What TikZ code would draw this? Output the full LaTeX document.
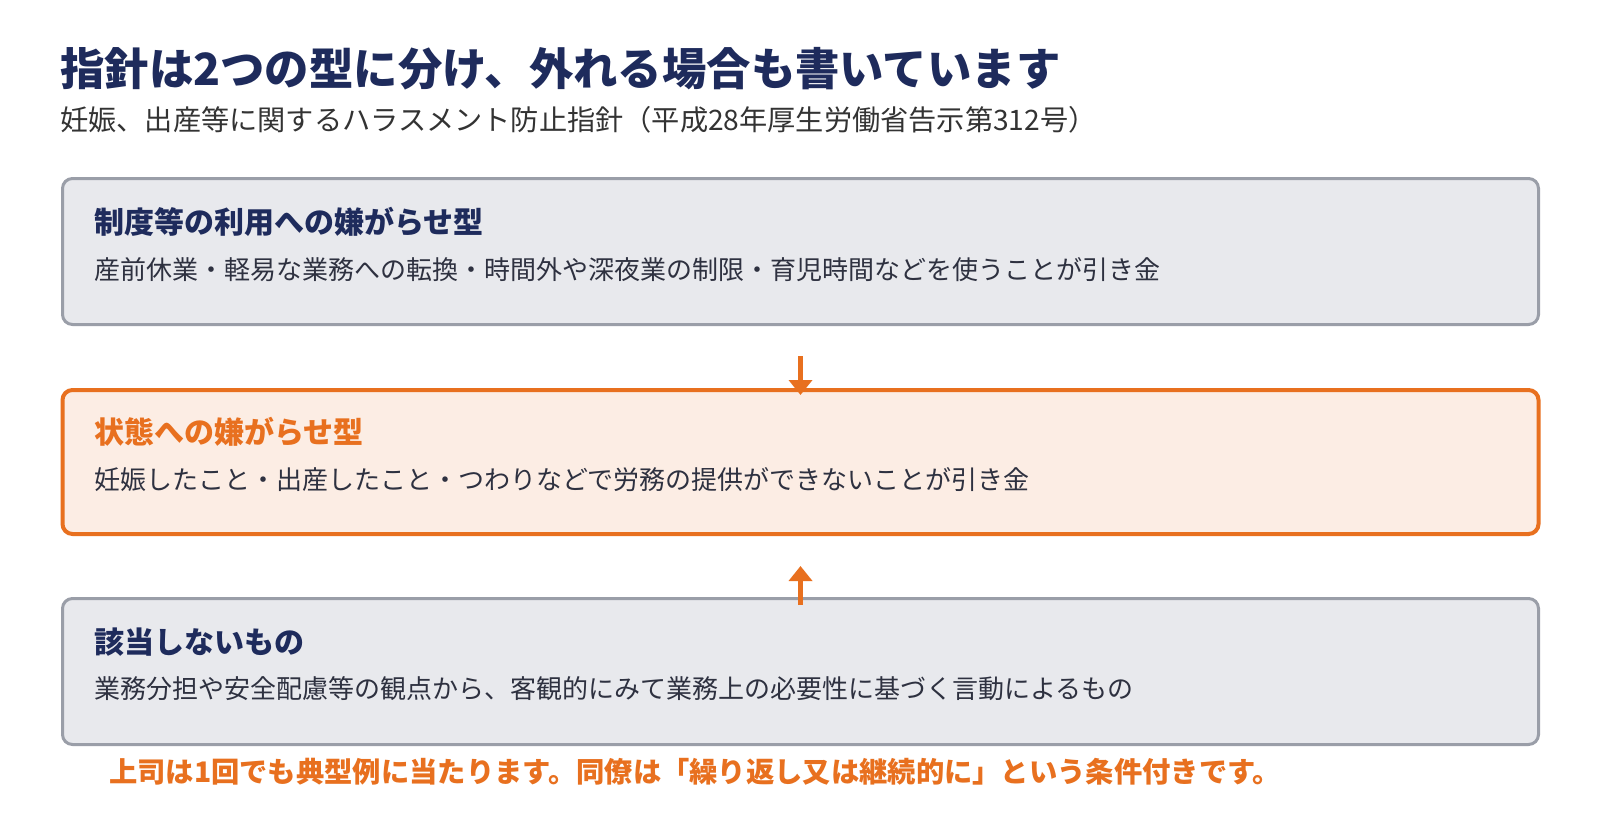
\documentclass[tikz,border=0pt]{standalone}
\usepackage{fontspec}
\setmainfont{Noto Sans CJK JP}
\usetikzlibrary{arrows.meta}
\definecolor{navy}{HTML}{1E2B5C}
\definecolor{orng}{HTML}{E8701F}
\definecolor{grayfill}{HTML}{E8E9ED}
\definecolor{graydraw}{HTML}{9A9EA8}
\definecolor{orfill}{HTML}{FCEDE4}
\definecolor{bodytxt}{HTML}{2E3140}
\definecolor{subtxt}{HTML}{333333}
\begin{document}
\begin{tikzpicture}[x=1pt,y=-1pt,
  box/.style={rounded corners=10pt, minimum width=1476pt, inner sep=0pt},
  graybox/.style={box, draw=graydraw, fill=grayfill, line width=3pt, minimum height=146pt},
  orbox/.style={box, draw=orng, fill=orfill, line width=4pt, minimum height=144pt},
  boxtitle/.style={anchor=west, inner sep=0pt, font=\fontsize{30}{34}\selectfont\bfseries},
  boxbody/.style={anchor=west, inner sep=0pt, text=bodytxt, font=\fontsize{26}{30}\selectfont},
  flow/.style={draw=orng, line width=5pt, -{Triangle[width=23pt,length=15pt]}}
]
\useasboundingbox (0,0) rectangle (1600,840);
\fill[white] (0,0) rectangle (1600,840);

\node[anchor=west, inner sep=0pt, text=navy, font=\fontsize{44.4}{50}\selectfont\bfseries] (title) at (60,69) {指針は2つの型に分け、外れる場合も書いています};
\node[anchor=west, inner sep=0pt, text=subtxt, font=\fontsize{28.2}{32}\selectfont] (sub) at (60,120) {妊娠、出産等に関するハラスメント防止指針（平成28年厚生労働省告示第312号）};

\node[graybox] (b1) at (800.5,251.5) {};
\node[orbox] (b2) at (800.5,462) {};
\node[graybox] (b3) at (800.5,671.5) {};

\node[boxtitle, text=navy] (t1) at (94,222) {制度等の利用への嫌がらせ型};
\node[boxbody] (d1) at (94,270) {産前休業・軽易な業務への転換・時間外や深夜業の制限・育児時間などを使うことが引き金};

\node[boxtitle, text=orng] (t2) at (94,432) {状態への嫌がらせ型};
\node[boxbody] (d2) at (94,480) {妊娠したこと・出産したこと・つわりなどで労務の提供ができないことが引き金};

\node[boxtitle, text=navy] (t3) at (94,642) {該当しないもの};
\node[boxbody] (d3) at (94,689) {業務分担や安全配慮等の観点から、客観的にみて業務上の必要性に基づく言動によるもの};

\draw[flow] ([yshift=-30pt]b1.south) -- ([yshift=-7pt]b2.north);
\draw[flow] ([yshift=-8pt]b3.north) -- ([yshift=-30pt]b2.south);

\node[anchor=west, inner sep=0pt, text=orng, font=\fontsize{28.3}{32}\selectfont\bfseries] (foot) at (109,772) {上司は1回でも典型例に当たります。同僚は「繰り返し又は継続的に」という条件付きです。};
\end{tikzpicture}
\end{document}
